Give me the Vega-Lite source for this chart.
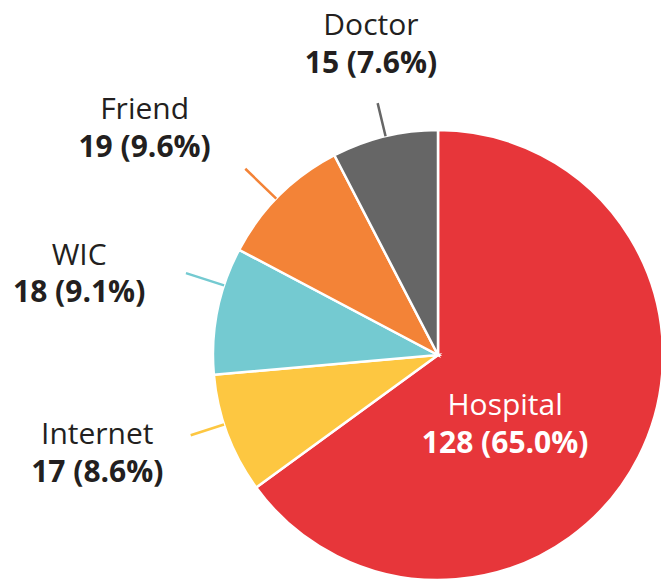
{
  "$schema": "https://vega.github.io/schema/vega-lite/v6.json",
  "width": 446,
  "height": 456,
  "autosize": {"type": "none"},
  "padding": {"left": 215, "top": 127, "right": 0, "bottom": 0},
  "background": "white",
  "view": {"stroke": null},
  "data": {
    "values": [
      {"source": "Hospital", "count": 128},
      {"source": "Internet", "count": 17},
      {"source": "WIC", "count": 18},
      {"source": "Friend", "count": 19},
      {"source": "Doctor", "count": 15}
    ]
  },
  "transform": [
    {"joinaggregate": [{"op": "sum", "field": "count", "as": "total"}]},
    {"window": [{"op": "sum", "field": "count", "as": "cum"}], "frame": [null, 0]},
    {"calculate": "(datum.cum - datum.count) / datum.total", "as": "start"},
    {"calculate": "datum.cum / datum.total", "as": "end"},
    {"calculate": "(datum.cum - datum.count / 2) / datum.total", "as": "mid"},
    {"calculate": "datum.count + ' (' + format(datum.count / datum.total * 100, '.1f') + '%)'", "as": "label"}
  ],
  "layer": [
    {
      "mark": {"type": "arc", "outerRadius": 225, "stroke": "white", "strokeWidth": 2.5},
      "encoding": {
        "theta": {"field": "start", "type": "quantitative", "scale": {"domain": [0, 1], "range": [0, 6.283185307]}},
        "theta2": {"field": "end"},
        "color": {
          "field": "source",
          "type": "nominal",
          "scale": {
            "domain": ["Hospital", "Internet", "WIC", "Friend", "Doctor"],
            "range": ["#E7363A", "#FDC741", "#74CAD1", "#F38337", "#666666"]
          },
          "legend": null
        }
      }
    },
    {
      "transform": [{"filter": "datum.source === 'Doctor'"}],
      "layer": [
        {
          "mark": {"type": "arc", "innerRadius": 225, "outerRadius": 259, "filled": false, "stroke": "#666666", "strokeWidth": 2.5, "thetaOffset": 0.004, "theta2Offset": 0.004},
          "encoding": {
            "theta": {"field": "mid", "type": "quantitative", "scale": {"domain": [0, 1], "range": [0, 6.283185307]}},
            "theta2": {"field": "mid"}
          }
        },
        {
          "mark": {"type": "text", "radius": 300, "dx": 4, "dy": -28.5, "font": "Open Sans", "fontSize": 30, "color": "#231f20", "align": "center", "baseline": "alphabetic"},
          "encoding": {
            "theta": {"field": "mid", "type": "quantitative", "scale": {"domain": [0, 1], "range": [0, 6.283185307]}},
            "text": {"field": "source"}
          }
        },
        {
          "mark": {"type": "text", "radius": 300, "dx": 4, "dy": 9.5, "font": "Open Sans", "fontSize": 30, "fontWeight": "bold", "color": "#231f20", "align": "center", "baseline": "alphabetic"},
          "encoding": {
            "theta": {"field": "mid", "type": "quantitative", "scale": {"domain": [0, 1], "range": [0, 6.283185307]}},
            "text": {"field": "label"}
          }
        }
      ]
    },
    {
      "transform": [{"filter": "datum.source === 'Friend'"}],
      "layer": [
        {
          "mark": {"type": "arc", "innerRadius": 225, "outerRadius": 268, "filled": false, "stroke": "#F38337", "strokeWidth": 2.5, "thetaOffset": -0.021, "theta2Offset": -0.021},
          "encoding": {
            "theta": {"field": "mid", "type": "quantitative", "scale": {"domain": [0, 1], "range": [0, 6.283185307]}},
            "theta2": {"field": "mid"}
          }
        },
        {
          "mark": {"type": "text", "radius": 330, "dx": -61, "dy": -1.6, "font": "Open Sans", "fontSize": 30, "color": "#231f20", "align": "center", "baseline": "alphabetic"},
          "encoding": {
            "theta": {"field": "mid", "type": "quantitative", "scale": {"domain": [0, 1], "range": [0, 6.283185307]}},
            "text": {"field": "source"}
          }
        },
        {
          "mark": {"type": "text", "radius": 330, "dx": -61, "dy": 36.4, "font": "Open Sans", "fontSize": 30, "fontWeight": "bold", "color": "#231f20", "align": "center", "baseline": "alphabetic"},
          "encoding": {
            "theta": {"field": "mid", "type": "quantitative", "scale": {"domain": [0, 1], "range": [0, 6.283185307]}},
            "text": {"field": "label"}
          }
        }
      ]
    },
    {
      "transform": [{"filter": "datum.source === 'WIC'"}],
      "layer": [
        {
          "mark": {"type": "arc", "innerRadius": 225, "outerRadius": 265, "filled": false, "stroke": "#74CAD1", "strokeWidth": 2.5, "thetaOffset": 0.115, "theta2Offset": 0.115},
          "encoding": {
            "theta": {"field": "mid", "type": "quantitative", "scale": {"domain": [0, 1], "range": [0, 6.283185307]}},
            "theta2": {"field": "mid"}
          }
        },
        {
          "mark": {"type": "text", "radius": 360, "dx": -6, "dy": -19.2, "font": "Open Sans", "fontSize": 30, "color": "#231f20", "align": "center", "baseline": "alphabetic"},
          "encoding": {
            "theta": {"field": "mid", "type": "quantitative", "scale": {"domain": [0, 1], "range": [0, 6.283185307]}},
            "text": {"field": "source"}
          }
        },
        {
          "mark": {"type": "text", "radius": 360, "dx": -6, "dy": 18.3, "font": "Open Sans", "fontSize": 30, "fontWeight": "bold", "color": "#231f20", "align": "center", "baseline": "alphabetic"},
          "encoding": {
            "theta": {"field": "mid", "type": "quantitative", "scale": {"domain": [0, 1], "range": [0, 6.283185307]}},
            "text": {"field": "label"}
          }
        }
      ]
    },
    {
      "transform": [{"filter": "datum.source === 'Internet'"}],
      "layer": [
        {
          "mark": {"type": "arc", "innerRadius": 225, "outerRadius": 260, "filled": false, "stroke": "#FDC741", "strokeWidth": 2.5, "thetaOffset": 0.045, "theta2Offset": 0.045},
          "encoding": {
            "theta": {"field": "mid", "type": "quantitative", "scale": {"domain": [0, 1], "range": [0, 6.283185307]}},
            "theta2": {"field": "mid"}
          }
        },
        {
          "mark": {"type": "text", "radius": 350, "dx": -13, "dy": -34.4, "font": "Open Sans", "fontSize": 30, "color": "#231f20", "align": "center", "baseline": "alphabetic"},
          "encoding": {
            "theta": {"field": "mid", "type": "quantitative", "scale": {"domain": [0, 1], "range": [0, 6.283185307]}},
            "text": {"field": "source"}
          }
        },
        {
          "mark": {"type": "text", "radius": 350, "dx": -13, "dy": 3.6, "font": "Open Sans", "fontSize": 30, "fontWeight": "bold", "color": "#231f20", "align": "center", "baseline": "alphabetic"},
          "encoding": {
            "theta": {"field": "mid", "type": "quantitative", "scale": {"domain": [0, 1], "range": [0, 6.283185307]}},
            "text": {"field": "label"}
          }
        }
      ]
    },
    {
      "transform": [{"filter": "datum.source === 'Hospital'"}],
      "layer": [
        {
          "mark": {"type": "text", "radius": 100, "dx": -22, "dy": 14.7, "font": "Open Sans", "fontSize": 30, "color": "white", "align": "center", "baseline": "alphabetic"},
          "encoding": {
            "theta": {"field": "mid", "type": "quantitative", "scale": {"domain": [0, 1], "range": [0, 6.283185307]}},
            "text": {"field": "source"}
          }
        },
        {
          "mark": {"type": "text", "radius": 100, "dx": -22, "dy": 52.7, "font": "Open Sans", "fontSize": 30, "fontWeight": "bold", "color": "white", "align": "center", "baseline": "alphabetic"},
          "encoding": {
            "theta": {"field": "mid", "type": "quantitative", "scale": {"domain": [0, 1], "range": [0, 6.283185307]}},
            "text": {"field": "label"}
          }
        }
      ]
    }
  ]
}
